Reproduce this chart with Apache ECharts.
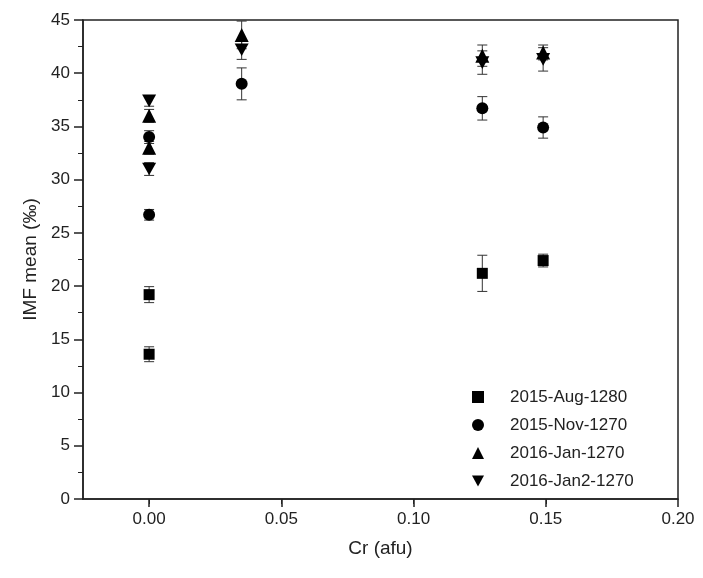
<!DOCTYPE html>
<html>
<head>
<meta charset="utf-8">
<script src="https://cdn.jsdelivr.net/npm/echarts@6/dist/echarts.min.js"></script>
<style>
  html, body { margin: 0; padding: 0; background: #fff; }
  #main { width: 703px; height: 578px; }
</style>
</head>
<body>
<div id="main"></div>
<script>
var seriesNames = ['2015-Aug-1280', '2015-Nov-1270', '2016-Jan-1270', '2016-Jan2-1270'];

// Cr (afu) values, IMF mean values, and error half widths
var augX = [0, 0, 0.126, 0.149];
var augY = [19.2, 13.6, 21.2, 22.4];
var augErr = [0.75, 0.7, 1.7, 0.6];

var novX = [0, 0, 0.035, 0.126, 0.149];
var novY = [26.7, 34.0, 39.0, 36.7, 34.9];
var novErr = [0.5, 0.6, 1.5, 1.1, 1.0];

var janX = [0, 0, 0.035, 0.126, 0.149];
var janY = [36.0, 33.0, 43.6, 41.65, 41.95];
var janErr = [0.6, 0.6, 1.3, 1.0, 0.7];

var jan2X = [0, 0, 0.035, 0.126, 0.149];
var jan2Y = [37.4, 31.0, 42.2, 41.0, 41.3];
var jan2Err = [0.5, 0.6, 0.9, 1.1, 1.1];

var xTicks = [0, 0.05, 0.10, 0.15, 0.20];

var downTri = 'path://M0,0 L10,0 L5,9 Z';
var symbols = ['rect', 'circle', 'triangle', downTri];
var sizes = [11, 12, 14, 14];

function pts(xs, ys) {
	return xs.map(function (x, i) { return [x, ys[i]]; });
}
function errPts(xs, ys, es) {
	return xs.map(function (x, i) { return [x, ys[i] - es[i], ys[i] + es[i]]; });
}

var groups = [
	[augX, augY, augErr],
	[novX, novY, novErr],
	[janX, janY, janErr],
	[jan2X, jan2Y, jan2Err]
];

function renderErr(params, api) {
	var lo = api.coord([api.value(0), api.value(1)]);
	var hi = api.coord([api.value(0), api.value(2)]);
	var w = 5;
	var st = { stroke: '#333', lineWidth: 1 };
	return {
		type: 'group',
		children: [
			{ type: 'line', shape: { x1: lo[0], y1: lo[1], x2: hi[0], y2: hi[1] }, style: st },
			{ type: 'line', shape: { x1: lo[0] - w, y1: lo[1], x2: lo[0] + w, y2: lo[1] }, style: st },
			{ type: 'line', shape: { x1: hi[0] - w, y1: hi[1], x2: hi[0] + w, y2: hi[1] }, style: st }
		]
	};
}

var series = [];
groups.forEach(function (g, i) {
	series.push({
		type: 'custom',
		name: seriesNames[i] + ' err',
		renderItem: renderErr,
		data: errPts(g[0], g[1], g[2]),
		z: 2,
		silent: true
	});
});
groups.forEach(function (g, i) {
	series.push({
		type: 'scatter',
		name: seriesNames[i],
		symbol: symbols[i],
		symbolSize: i == 3 ? [14, 12.6] : sizes[i],
		itemStyle: { color: '#000', opacity: 1 },
		data: pts(g[0], g[1]),
		z: 3
	});
});

var chart = echarts.init(document.getElementById('main'));
var axisFont = { fontFamily: 'Liberation Sans', fontSize: 17, color: '#222' };

chart.setOption({
	animation: false,
	backgroundColor: '#fff',
	grid: {
		left: 83, top: 20, right: 25, bottom: 79,
		show: true, borderColor: '#222', borderWidth: 1.5, backgroundColor: 'transparent'
	},
	legend: {
		orient: 'vertical',
		left: 472, top: 387,
		padding: 0,
		itemGap: 8,
		itemWidth: 12, itemHeight: 12,
		data: seriesNames.map(function (n, i) {
			return { name: n, icon: symbols[i] };
		}),
		textStyle: { fontFamily: 'Liberation Sans', fontSize: 17, color: '#222', lineHeight: 20, padding: [0, 0, 0, 21] }
	},
	xAxis: {
		type: 'value',
		min: -0.025, max: 0.2, interval: 0.05,
		name: 'Cr (afu)', nameLocation: 'middle', nameGap: 40,
		nameTextStyle: { fontFamily: 'Liberation Sans', fontSize: 19, color: '#222' },
		axisLine: { onZero: false, lineStyle: { color: '#222', width: 1.5 } },
		axisTick: { length: 8, lineStyle: { color: '#222', width: 1.5 }, customValues: xTicks },
		minorTick: { show: true, splitNumber: 2, length: 5, lineStyle: { color: '#222', width: 1 } },
		axisLabel: Object.assign({ margin: 12, customValues: xTicks, formatter: function (v) { return v.toFixed(2); } }, axisFont),
		splitLine: { show: false }
	},
	yAxis: {
		type: 'value',
		min: 0, max: 45, interval: 5,
		name: 'IMF mean (‰)', nameLocation: 'middle', nameGap: 42,
		nameTextStyle: { fontFamily: 'Liberation Sans', fontSize: 19, color: '#222' },
		axisLine: { show: true, onZero: false, lineStyle: { color: '#222', width: 1.5 } },
		axisTick: { show: true, length: 9, lineStyle: { color: '#222', width: 1.5 } },
		minorTick: { show: true, splitNumber: 2, length: 5, lineStyle: { color: '#222', width: 1 } },
		axisLabel: Object.assign({ margin: 13 }, axisFont),
		splitLine: { show: false }
	},
	series: series
});
</script>
</body>
</html>
